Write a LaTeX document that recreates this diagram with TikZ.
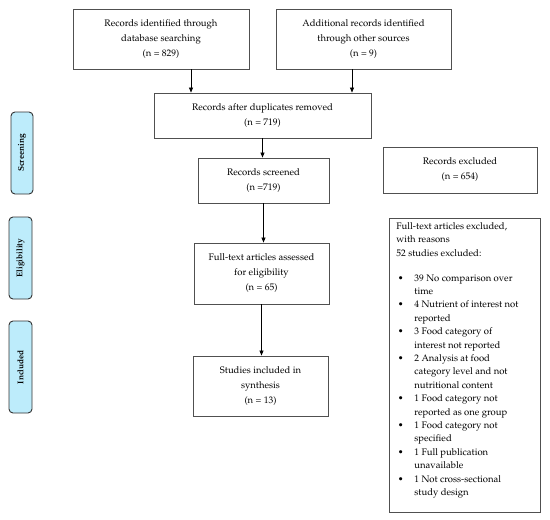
\documentclass[tikz,border=0pt]{standalone}
\usepackage[T1]{fontenc}
\renewcommand{\rmdefault}{ppl}
\usetikzlibrary{arrows.meta,calc}
\definecolor{sidefill}{RGB}{189,236,251}
\definecolor{boxline}{RGB}{80,80,80}
\begin{document}
\begin{tikzpicture}[x=1pt,y=1pt,
  flowbox/.style={draw=boxline,line width=0.9pt,align=center,inner sep=2pt,
    font=\fontsize{9.5}{15}\selectfont},
  sidebox/.style={draw=black!80,line width=0.9pt,fill=sidefill,rounded corners=4pt,
    rotate=90,font=\fontsize{8.3}{10}\selectfont\bfseries,inner sep=0pt},
  arr/.style={-{Triangle[length=5pt,width=4pt]},line width=0.7pt,black}]
\path[use as bounding box,fill=white] (0,0) rectangle (550,-520);

\node[flowbox,minimum width=176pt,minimum height=60pt] (b1) at (161,-39)
  {Records identified through\\database searching\\(n = 829)};
\node[flowbox,minimum width=175pt,minimum height=60pt] (b2) at (363.5,-39)
  {Additional records identified\\through other sources\\(n = 9)};
\node[flowbox,minimum width=217pt,minimum height=45pt] (b3) at (262.5,-115.5)
  {Records after duplicates removed\\(n = 719)};
\node[flowbox,minimum width=131pt,minimum height=45pt] (scr) at (263.5,-180.5)
  {Records screened\\(n =719)};
\node[flowbox,minimum width=154pt,minimum height=46pt] (exc) at (460,-170)
  {Records excluded\\(n = 654)};
\node[flowbox,minimum width=135pt,minimum height=61pt] (ft) at (261.5,-273.5)
  {Full-text articles assessed\\for eligibility\\(n = 65)};
\node[flowbox,minimum width=135pt,minimum height=60pt] (st) at (260.5,-386)
  {Studies included in\\synthesis\\(n = 13)};

\node[draw=boxline,line width=0.9pt,inner xsep=7pt,inner ysep=4pt,anchor=north west,
  font=\fontsize{9.5}{13.4}\selectfont] (big) at (389,-218)
  {\parbox[c][286pt][t]{137pt}{\raggedright
   Full-text articles excluded,\\
   with reasons\\
   52 studies excluded:\par\vspace{11.6pt}
   \def\itm{\par\noindent\hangindent=18pt\hangafter=1\makebox[18pt][l]{\hspace{1.5pt}\textbullet}}%
   \itm 39 No comparison over\newline time
   \itm 4 Nutrient of interest not\newline reported
   \itm 3 Food category of\newline interest not reported
   \itm 2 Analysis at food\newline category level and not\newline nutritional content
   \itm 1 Food category not\newline reported as one group
   \itm 1 Food category not\newline specified
   \itm 1 Full publication\newline unavailable
   \itm 1 Not cross-sectional\newline study design\par}};

\node[sidebox,minimum width=82pt,minimum height=22pt] (sS) at (22,-153) {Screening};
\node[sidebox,minimum width=82pt,minimum height=23pt] (sE) at (20.5,-258) {Eligibility};
\node[sidebox,minimum width=92pt,minimum height=23pt] (sI) at (20.5,-367) {Included};

\draw[arr] ([xshift=30pt]b1.south) -- ([xshift=30pt]b1.south |- b3.north);
\draw[arr] ([xshift=-11.5pt]b2.south) -- ([xshift=-11.5pt]b2.south |- b3.north);
\draw[arr] (b3.south) -- (b3.south |- scr.north);
\draw[arr] (scr.south) -- (scr.south |- ft.north);
\draw[arr] (ft.south) -- (ft.south |- st.north);
\end{tikzpicture}
\end{document}
